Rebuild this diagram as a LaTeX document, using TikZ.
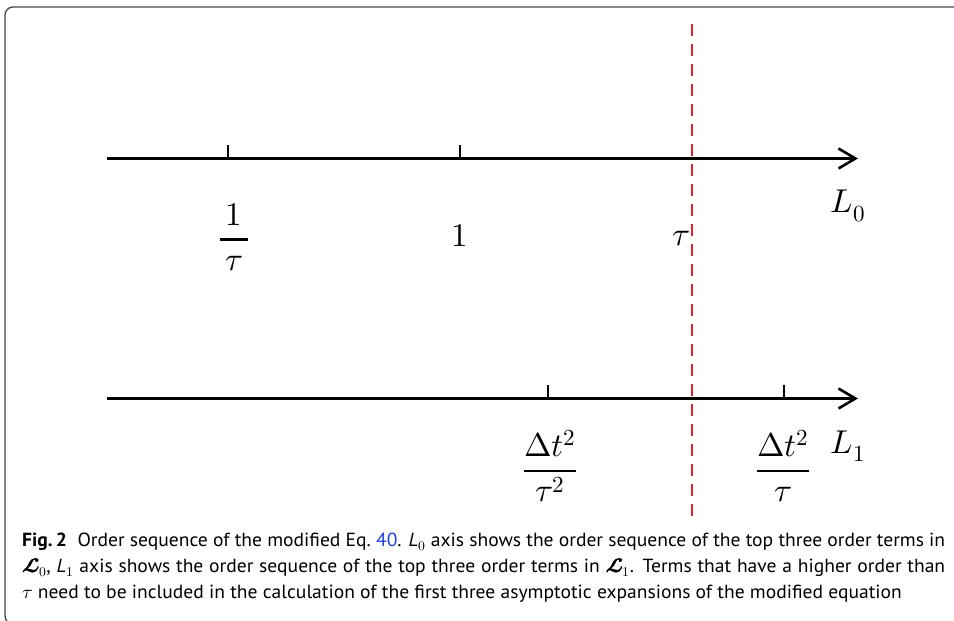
\documentclass[tikz,border=0pt]{standalone}
\usepackage{amsmath}
\usepackage{fontspec}
\usepackage{unicode-math}
\setmathfont{Latin Modern Math}
\newfontfamily\capfont{PT Sans}
\usetikzlibrary{arrows.meta}
\definecolor{dashred}{RGB}{232,32,44}
\definecolor{linkblue}{RGB}{30,60,225}
\definecolor{framegray}{RGB}{70,70,70}
\newsavebox\caplineA
\newlength\capw
\newcommand\fr[2]{\genfrac{}{}{2.4pt}{0}{#1}{#2}}
\newcommand\heavyL{\special{pdf:literal direct 2 Tr 0.6 w}\symbfcal{L}\special{pdf:literal direct 0 Tr 0.4 w}}
\begin{document}
\sbox\caplineA{\capfont\fontsize{19}{23}\selectfont\textbf{Fig.\,2}\ \ Order sequence of the modified Eq.~\textcolor{linkblue}{40}. {\itshape L}$_0$ axis shows the order sequence of the top three order terms in}%
\setlength\capw{\wd\caplineA}%
\pgfmathsetmacro\capsx{923/\capw}%
\begin{tikzpicture}[x=1pt,y=-1pt,
  axisline/.style={line width=2.6pt,-{Straight Barb[length=17pt,width=20pt,line width=2.6pt]}},
  tickline/.style={line width=2.6pt},
  reddash/.style={draw=dashred,line width=2.6pt,dash pattern=on 12pt off 8pt},
  lab/.style={inner sep=0pt,font=\fontsize{33}{40}\selectfont},
  capline/.style={inner sep=0pt,anchor=base west,font=\capfont\fontsize{19}{23}\selectfont},
  frame/.style={draw=framegray,line width=1.3pt,rounded corners=8pt}]
\useasboundingbox (0,0) rectangle (954,621);
\draw[frame] (5,7) rectangle (962,624);
% axes
\coordinate (a0s) at (107,158.5);
\coordinate (a0e) at (858,158.5);
\coordinate (a1s) at (107,398.5);
\coordinate (a1e) at (858,398.5);
\draw[axisline] (a0s) -- (a0e);
\draw[axisline] (a1s) -- (a1e);
% ticks
\coordinate (k1) at (228,158.5); \coordinate (k1t) at (228,145);
\coordinate (k2) at (460,158.5); \coordinate (k2t) at (460,145);
\coordinate (k3) at (548,398.5); \coordinate (k3t) at (548,385);
\coordinate (k4) at (784,398.5); \coordinate (k4t) at (784,385);
\draw[tickline] (k1) -- (k1t);
\draw[tickline] (k2) -- (k2t);
\draw[tickline] (k3) -- (k3t);
\draw[tickline] (k4) -- (k4t);
% red dashed line
\coordinate (rt) at (692,24);
\coordinate (rb) at (692,518);
\draw[reddash] (rt) -- (rb);
% labels
\node[lab] (l1) at (234,237) {$\displaystyle\fr{\,1\,}{\,\tau\,}$};
\node[lab] (l2) at (460,236) {$1$};
\node[lab] (l3) at (681,239) {$\tau$};
\node[lab] (l4) at (848,206) {$L_0$};
\node[lab] (l5) at (550,466) {$\displaystyle\fr{\Delta t^2}{\tau^2}$};
\node[lab] (l6) at (783,466) {$\displaystyle\fr{\Delta t^2}{\tau}$};
\node[lab] (l7) at (848,446) {$L_1$};
% caption
\node[capline] (c1) at (22,546) {\scalebox{\capsx}[1]{\usebox\caplineA}};
\node[capline] (c2) at (22,572) {\scalebox{\capsx}[1]{\hbox to \capw{$\heavyL_0$, {\itshape L}$_1$ axis shows the order sequence of the top three order terms in $\heavyL_1$. Terms that have a higher order than}}};
\node[capline] (c3) at (22,598) {\scalebox{\capsx}[1]{$\tau$ need to be included in the calculation of the first three asymptotic expansions of the modified equation}};
\end{tikzpicture}
\end{document}
